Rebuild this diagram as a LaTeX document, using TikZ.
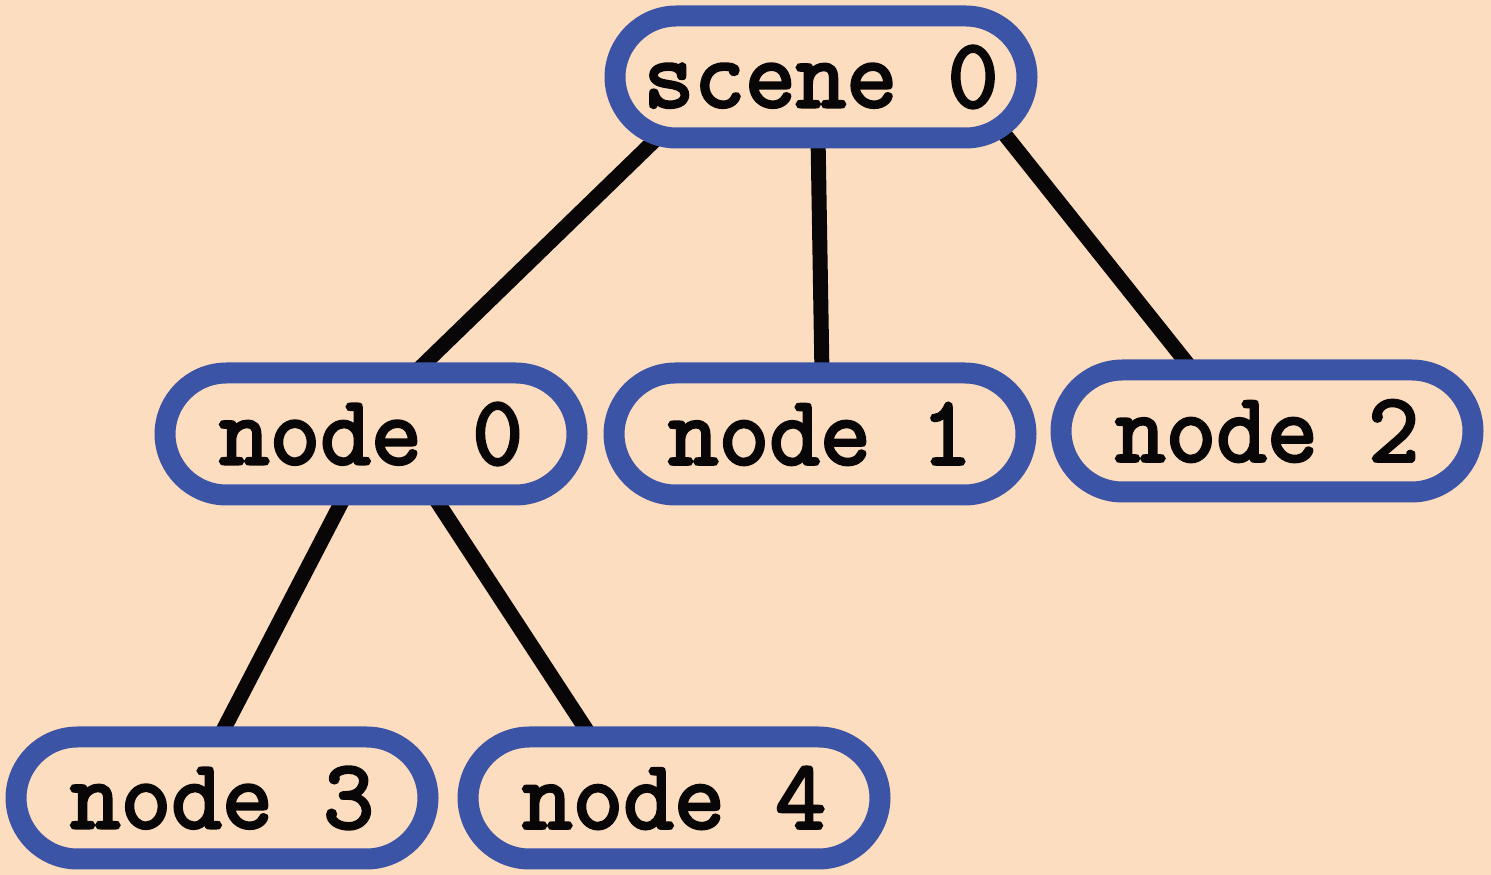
\documentclass[tikz,border=0pt]{standalone}
\usepackage{fontspec}
\newfontfamily\nodefont{Latin Modern Mono}[FakeBold=3]
\usetikzlibrary{backgrounds}
\definecolor{peach}{RGB}{253,221,192}
\definecolor{ringblue}{RGB}{60,84,166}
\definecolor{inkblack}{RGB}{8,6,6}
\tikzset{
  treenode/.style={draw=ringblue, line width=0.42cm, fill=peach, rounded corners=1.23cm,
    minimum width=8.24cm, minimum height=2.44cm, inner sep=0pt,
    font=\nodefont\fontsize{56}{56}\selectfont, text=inkblack},
  link/.style={draw=inkblack, line width=0.3cm}
}
\begin{document}
\begin{tikzpicture}
  \useasboundingbox (0,0) rectangle (29.82,17.5);
  \node[treenode] (s0) at (16.42,15.96) {scene 0};
  \node[treenode] (n0) at (7.42,8.82) {node 0};
  \node[treenode] (n1) at (16.40,8.82) {node 1};
  \node[treenode] (n2) at (25.34,8.88) {node 2};
  \node[treenode] (n3) at (4.44,1.54) {node 3};
  \node[treenode] (n4) at (13.48,1.54) {node 4};
  \begin{pgfonlayer}{background}
    \fill[peach] (0,0) rectangle (29.82,17.5);
    \begin{scope}[link]
      \draw ([xshift=-2.02cm]s0.center) to ([xshift=-0.38cm]n0.center);
      \draw ([xshift=-0.08cm]s0.center) to ([xshift=0.06cm]n1.center);
      \draw ([xshift=2.76cm]s0.center) to ([xshift=-0.52cm]n2.center);
      \draw ([xshift=0.12cm]n0.center) to ([xshift=-0.68cm]n3.center);
      \draw ([xshift=0.44cm]n0.center) to ([xshift=-0.86cm]n4.center);
    \end{scope}
  \end{pgfonlayer}
\end{tikzpicture}
\end{document}
